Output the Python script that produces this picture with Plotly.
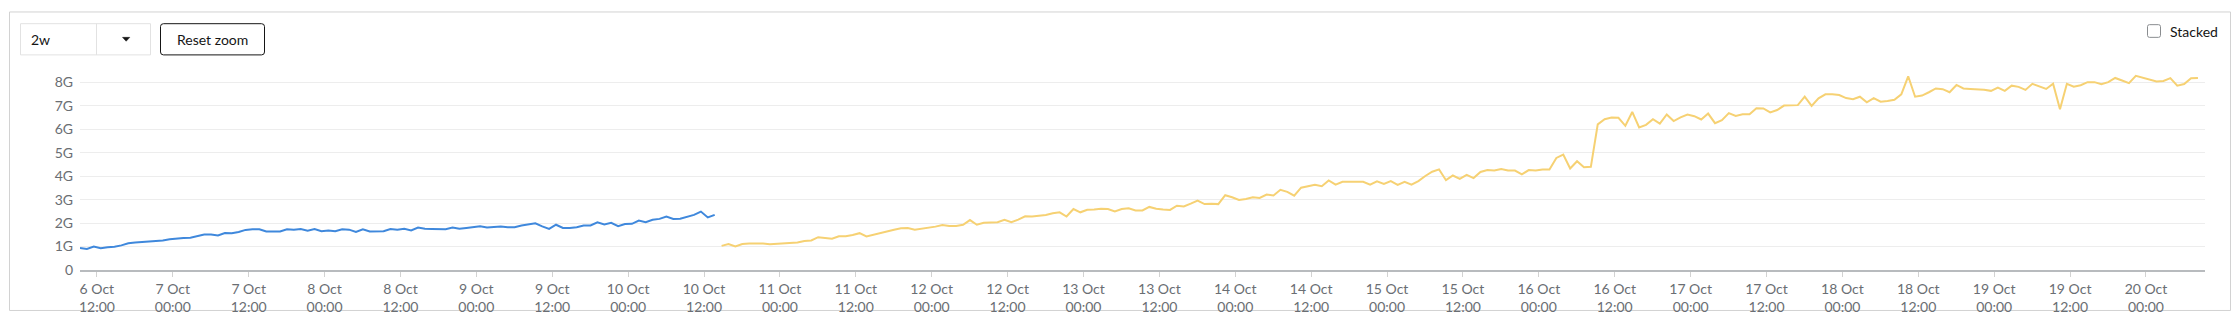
import datetime as dt
import plotly.graph_objects as go

# ---------------- data (values in G) ----------------
blue_values = [0.94, 0.90, 1.00, 0.93, 0.97, 0.99, 1.05, 1.14, 1.17, 1.19, 1.22, 1.24, 1.26, 1.31, 1.35, 1.36,
               1.38, 1.44, 1.51, 1.51, 1.47, 1.58, 1.57, 1.62, 1.71, 1.74, 1.74, 1.64, 1.65, 1.64, 1.74, 1.72,
               1.75, 1.68, 1.75, 1.65, 1.68, 1.65, 1.74, 1.72, 1.62, 1.74, 1.64, 1.65, 1.65, 1.75, 1.72, 1.76,
               1.69, 1.81, 1.76, 1.75,
               1.76, 1.74, 1.81, 1.76, 1.79, 1.83, 1.86, 1.81, 1.83, 1.85, 1.82, 1.82, 1.90, 1.96, 1.99, 1.86,
               1.75, 1.93, 1.79, 1.79, 1.82, 1.90, 1.90, 2.03, 1.94, 2.01, 1.87, 1.96, 1.97, 2.11, 2.04, 2.14,
               2.18, 2.28, 2.18, 2.19, 2.26, 2.35, 2.49, 2.24, 2.35]

yellow_values = [1.03, 1.11, 1.00, 1.11, 1.125, 1.14, 1.125, 1.10, 1.125, 1.14, 1.17,
                 1.17, 1.24, 1.26, 1.40, 1.35, 1.33, 1.44, 1.44, 1.49, 1.57, 1.43, 1.51, 1.58, 1.64, 1.72, 1.78,
                 1.79, 1.72, 1.76, 1.81, 1.85, 1.92, 1.88, 1.88, 1.93, 2.13, 1.93, 2.01, 2.04, 2.04, 2.14, 2.04,
                 2.15, 2.29, 2.28, 2.31, 2.35, 2.42, 2.46, 2.28, 2.60, 2.46, 2.57, 2.58, 2.61, 2.60, 2.50, 2.60,
                 2.63, 2.54,
                 2.54, 2.69, 2.61, 2.58, 2.56, 2.74, 2.71, 2.83, 2.96, 2.81, 2.83, 2.81, 3.19, 3.10, 2.99, 3.03,
                 3.10, 3.07, 3.22, 3.18, 3.42, 3.33, 3.17, 3.51, 3.56, 3.63, 3.57, 3.82, 3.64, 3.76, 3.76, 3.75,
                 3.76, 3.64, 3.78, 3.67, 3.79, 3.63, 3.76, 3.64, 3.79, 4.01, 4.19, 4.29, 3.83, 4.03, 3.89, 4.06,
                 3.92, 4.18, 4.26,
                 4.24, 4.31, 4.24, 4.24, 4.08, 4.26, 4.24, 4.29, 4.29, 4.78, 4.92, 4.33, 4.64, 4.38, 4.40, 6.21,
                 6.43, 6.50, 6.49, 6.15, 6.74, 6.08, 6.19, 6.43, 6.24, 6.63, 6.35, 6.51, 6.63, 6.56, 6.42, 6.67,
                 6.26, 6.39, 6.69, 6.57, 6.64, 6.64, 6.90, 6.89, 6.72, 6.82, 7.01, 7.01, 7.03, 7.39, 7.00, 7.32,
                 7.49, 7.49, 7.46, 7.33, 7.28, 7.39,
                 7.15, 7.33, 7.18, 7.21, 7.26, 7.49, 8.26, 7.39, 7.44, 7.58, 7.74, 7.71, 7.58, 7.89, 7.74, 7.72,
                 7.72, 7.69, 7.64, 7.78, 7.64, 7.86, 7.81, 7.68, 7.94, 7.82, 7.72, 7.94, 6.85, 7.94, 7.82, 7.88,
                 8.01, 8.01, 7.92, 8.01, 8.19, 8.08, 7.97, 8.28, 8.19, 8.10, 8.04, 8.06, 8.18, 7.86, 7.93, 8.18,
                 8.19]

start_time = dt.datetime(2023, 10, 6, 9, 20)
end_time = dt.datetime(2023, 10, 20, 9, 20)
step_seconds = 3927

y_tick_values = [0, 1, 2, 3, 4, 5, 6, 7, 8]
y_tick_labels = ["0", "1G", "2G", "3G", "4G", "5G", "6G", "7G", "8G"]

first_tick = dt.datetime(2023, 10, 6, 12, 0)
x_tick_values = [first_tick + dt.timedelta(hours=12 * i) for i in range(28)]
x_tick_labels = [f"{t.day} Oct<br>{t.strftime('%H:%M')}" for t in x_tick_values]

blue_times = [start_time + dt.timedelta(seconds=step_seconds * i) for i in range(len(blue_values))]
yellow_times = [start_time + dt.timedelta(seconds=step_seconds * (len(blue_values) + i))
                for i in range(len(yellow_values))]

# ---------------- layout geometry ----------------
W, H = 2240, 327
PL, PR, PT, PB = 80, 2205, 71, 275
FONT = "Lato"


def fx(x):
    return (x - PL) / (PR - PL)


def fy(y):
    return (PB - y) / (PB - PT)


def rrect(x0, y0, x1, y1, r):
    return (f"M {fx(x0 + r)},{fy(y0)} L {fx(x1 - r)},{fy(y0)} Q {fx(x1)},{fy(y0)} {fx(x1)},{fy(y0 + r)} "
            f"L {fx(x1)},{fy(y1 - r)} Q {fx(x1)},{fy(y1)} {fx(x1 - r)},{fy(y1)} "
            f"L {fx(x0 + r)},{fy(y1)} Q {fx(x0)},{fy(y1)} {fx(x0)},{fy(y1 - r)} "
            f"L {fx(x0)},{fy(y0 + r)} Q {fx(x0)},{fy(y0)} {fx(x0 + r)},{fy(y0)} Z")


fig = go.Figure()
fig.add_trace(go.Scatter(x=blue_times, y=blue_values, mode="lines",
                         line=dict(color="#3f88dc", width=2), name="a"))
fig.add_trace(go.Scatter(x=yellow_times, y=yellow_values, mode="lines",
                         line=dict(color="#f6d173", width=2), name="b"))

shapes = [
    # card border
    dict(type="rect", xref="paper", yref="paper", x0=fx(9.5), x1=fx(2230.5), y0=fy(10.5), y1=fy(316.5),
         line=dict(color="#d2d2d2", width=1), fillcolor="rgba(0,0,0,0)", layer="below"),
    # dropdown
    dict(type="rect", xref="paper", yref="paper", x0=fx(20.5), x1=fx(150.5), y0=fy(22.5), y1=fy(54.5),
         line=dict(color="#e2e2e2", width=1)),
    dict(type="line", xref="paper", yref="paper", x0=fx(96.5), x1=fx(96.5), y0=fy(22.5), y1=fy(54.5),
         line=dict(color="#e2e2e2", width=1)),
    dict(type="path", xref="paper", yref="paper",
         path=f"M {fx(122.5)},{fy(36.5)} L {fx(129.8)},{fy(36.5)} L {fx(126.15)},{fy(40.5)} Z",
         fillcolor="#151515", line=dict(color="#151515", width=0.5)),
    # reset zoom button
    dict(type="path", xref="paper", yref="paper", path=rrect(160.5, 22.5, 264.5, 54.5, 3),
         line=dict(color="#151515", width=1)),
    # stacked checkbox
    dict(type="path", xref="paper", yref="paper", path=rrect(2147.5, 23.5, 2160.5, 36.5, 2),
         line=dict(color="#8a8d90", width=1)),
]

annotations = [
    dict(text="2w", x=fx(29), y=fy(39), xref="paper", yref="paper", xanchor="left", yanchor="middle",
         showarrow=False, font=dict(family=FONT, size=14, color="#151515")),
    dict(text="Reset zoom", x=fx(212.5), y=fy(38.5), xref="paper", yref="paper", xanchor="center",
         yanchor="middle", showarrow=False, font=dict(family=FONT, size=14, color="#151515")),
    dict(text="Stacked", x=fx(2168), y=fy(31), xref="paper", yref="paper", xanchor="left", yanchor="middle",
         showarrow=False, font=dict(family=FONT, size=14, color="#151515")),
]

fig.update_layout(
    width=W, height=H,
    margin=dict(l=PL, r=W - PR, t=PT, b=H - PB, pad=0),
    paper_bgcolor="white", plot_bgcolor="white",
    showlegend=False,
    shapes=shapes, annotations=annotations,
    font=dict(family=FONT, size=13, color="#6a6e73"),
    xaxis=dict(type="date", range=[start_time, end_time], showgrid=False, zeroline=False,
               showline=True, linecolor="#b8bbbe", linewidth=2,
               ticks="outside", ticklen=5, tickwidth=1, tickcolor="#d2d2d2",
               tickvals=x_tick_values, ticktext=x_tick_labels,
               tickfont=dict(family=FONT, size=14, color="#6a6e73")),
    yaxis=dict(range=[0, (PB - PT) / 24.04], showgrid=True, gridcolor="#ededed", gridwidth=1,
               zeroline=False, showline=False, ticks="",
               tickvals=y_tick_values, ticktext=y_tick_labels, ticklabelstandoff=6,
               tickfont=dict(family=FONT, size=14, color="#6a6e73")),
)

fig.write_html("out.html")
